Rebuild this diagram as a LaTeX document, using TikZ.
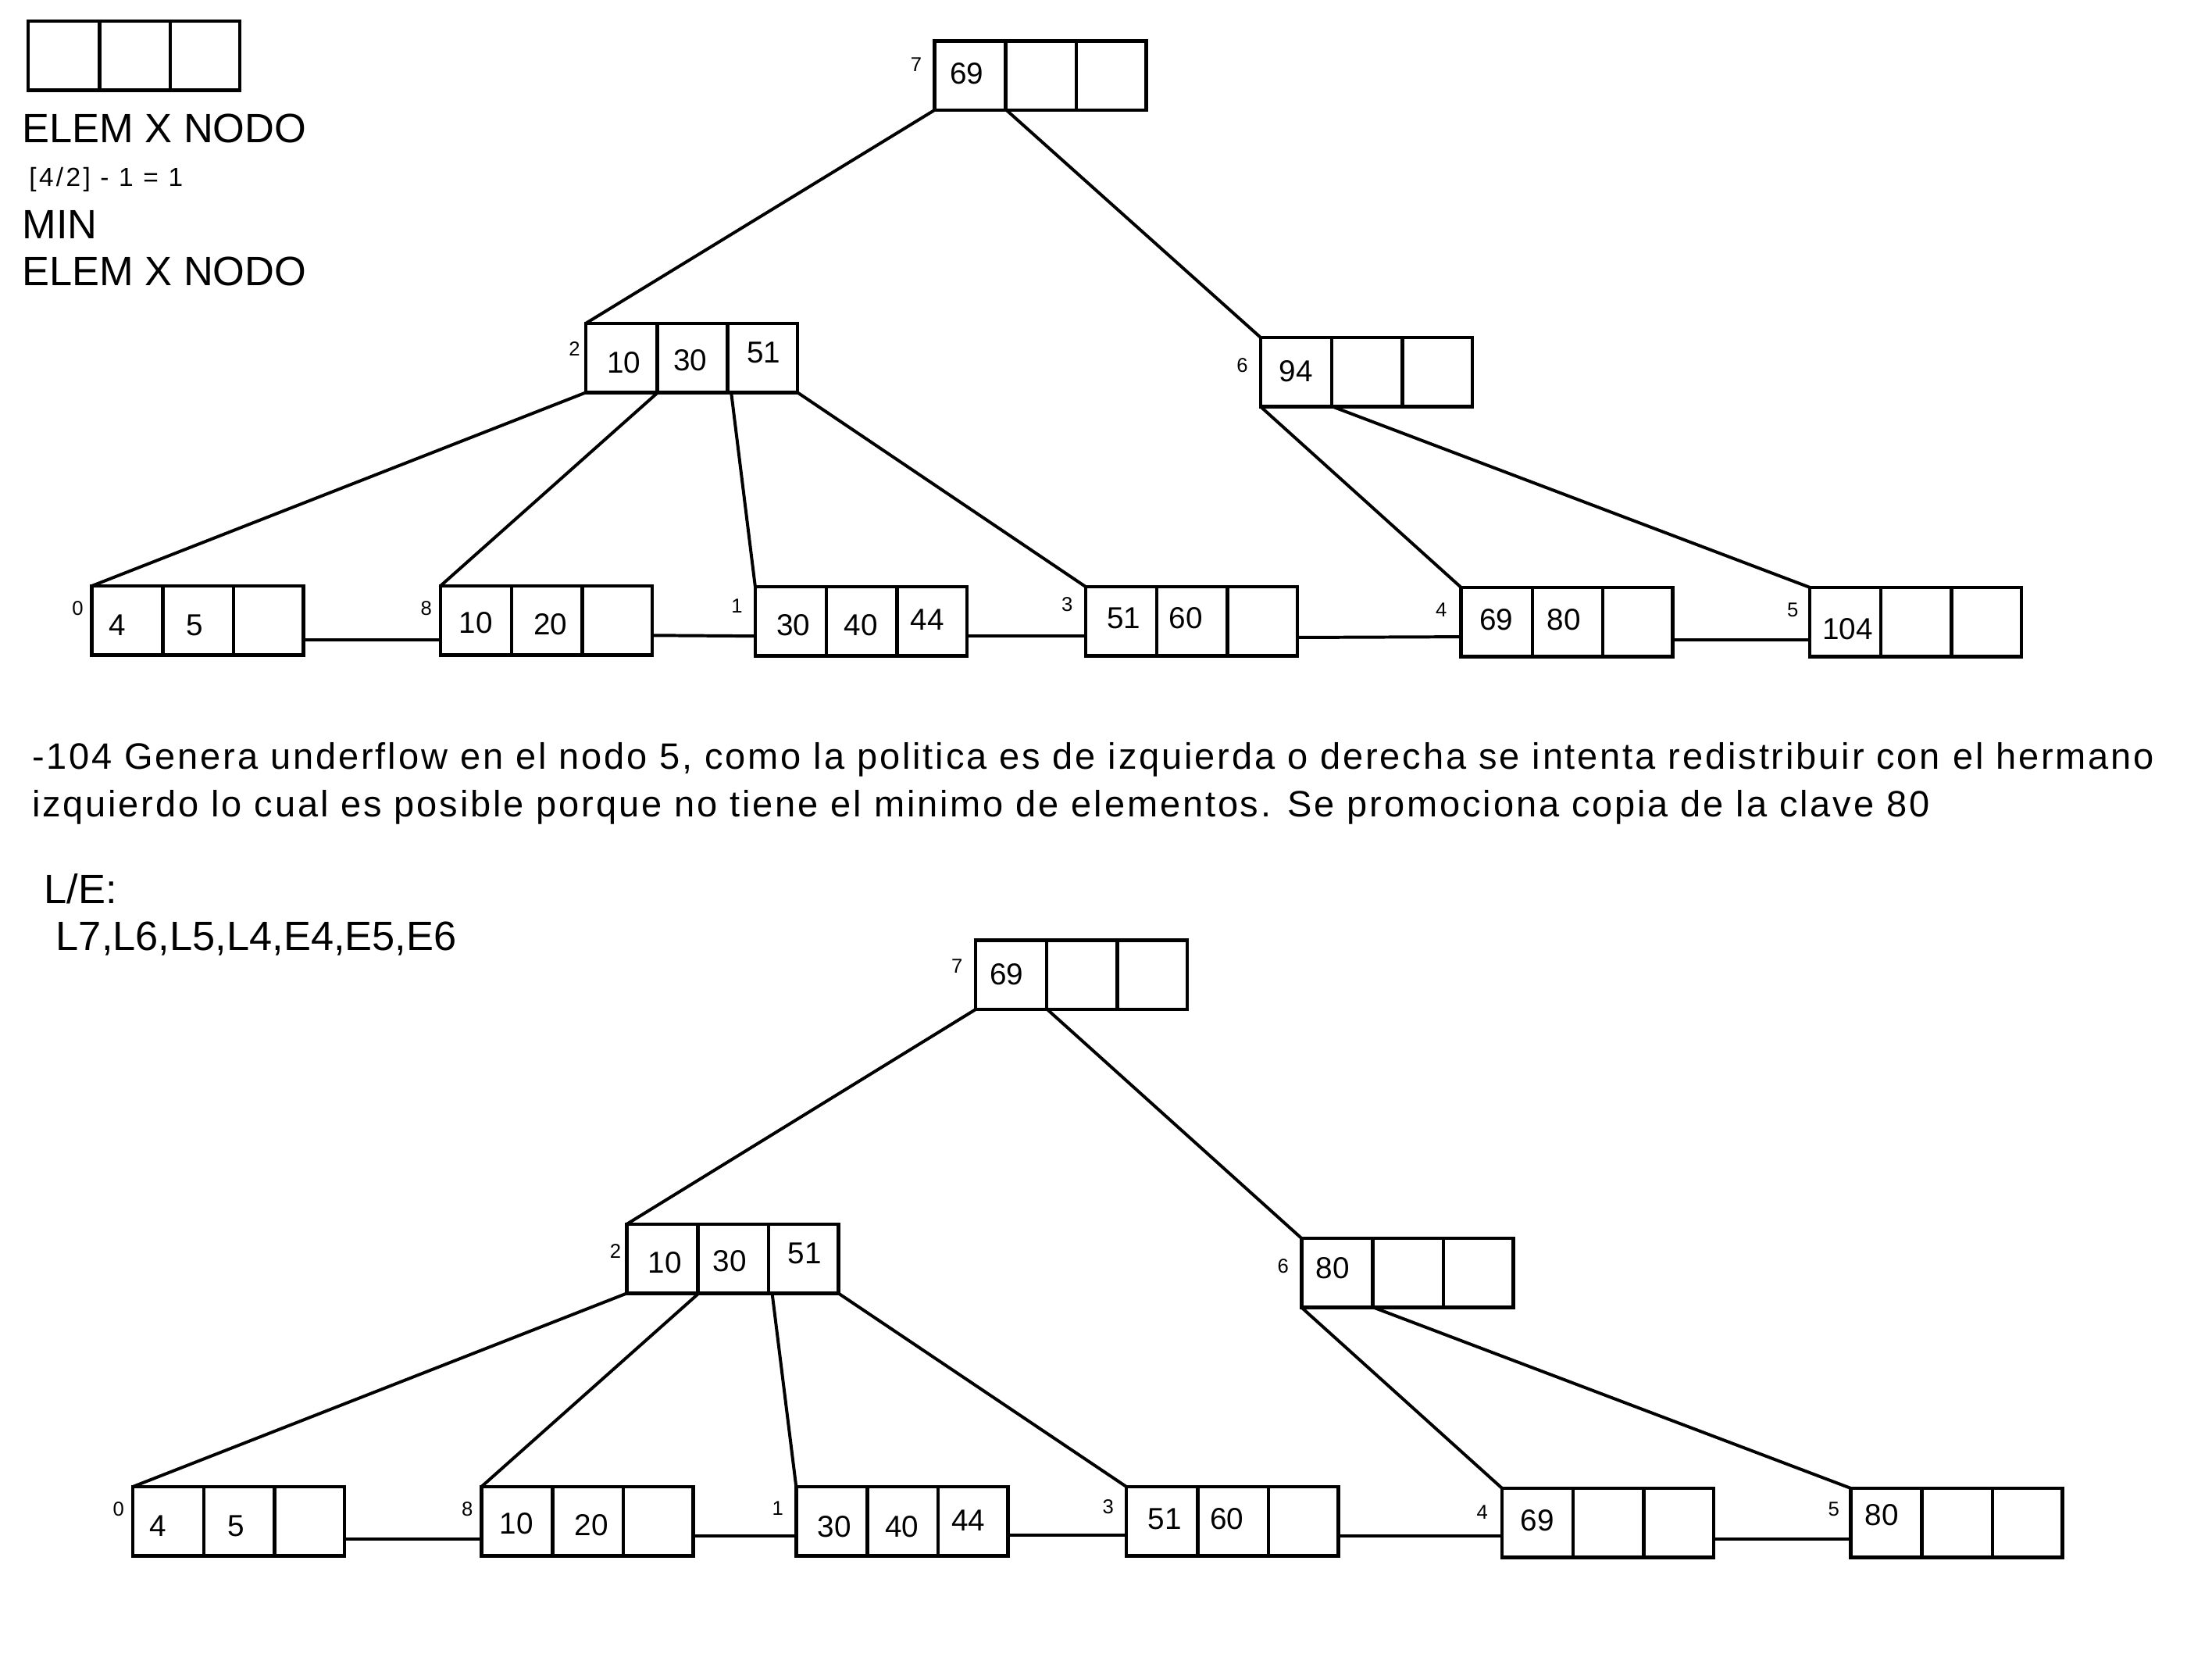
\documentclass[tikz,border=0pt]{standalone}
\usepackage{fontspec}
\setmainfont{Liberation Sans}
\newfontfamily\parafont[LetterSpace=6.1]{Liberation Sans}
\newfontfamily\smallfont[LetterSpace=10]{Liberation Sans}
\usetikzlibrary{calc}
\tikzset{
  bnode/.style={draw, line width=2.5pt, minimum width=150pt, minimum height=49pt, inner sep=0pt, outer sep=0pt, anchor=north west},
  divider/.style={line width=2.5pt},
  key/.style={font=\fontsize{21.4}{21.4}\selectfont, inner sep=0pt},
  idx/.style={font=\fontsize{14.2}{14.2}\selectfont, inner sep=0pt},
  link/.style={line width=2.2pt},
  big/.style={font=\fontsize{29}{29}\selectfont, inner sep=0pt, anchor=base west},
  para/.style={font=\parafont\fontsize{26}{26}\selectfont, inner sep=0pt, anchor=base west},
  small/.style={font=\smallfont\fontsize{18.5}{18.5}\selectfont, inner sep=0pt, anchor=base west}
}
\newcommand\btbox[3]{%
  \node[bnode] (#1) at (#2,#3) {};
  \draw[divider] ($(#1.north west)+(50.5,0)$) -- ($(#1.south west)+(50.5,0)$);
  \draw[divider] ($(#1.north west)+(100.5,0)$) -- ($(#1.south west)+(100.5,0)$);
}
\begin{document}
\begin{tikzpicture}[x=1pt,y=-1pt]
\useasboundingbox[fill=white] (0,0) rectangle (1567,1186);

% legend
\btbox{legend}{20}{15}
\node[big] (le1) at (15.5,101.1) {ELEM X NODO};
\node[small] (le2) at (20.5,131.9) {[4/2] - 1 = 1};
\node[big] (le3) at (15.5,168.8) {MIN};
\node[big] (le4) at (15.5,202) {ELEM X NODO};

% ---------- top tree ----------
\btbox{t7}{662}{29}
\btbox{t2}{415}{229}
\btbox{t6}{893}{239}
\btbox{t0}{65}{415}
\btbox{t8}{312}{415}
\btbox{t1}{535}{415.5}
\btbox{t3}{769}{415.5}
\btbox{t4}{1035}{416}
\btbox{t5}{1282}{416}

\node[idx] (it7) at (649,46) {7};
\node[idx] (it2) at (407,247) {2};
\node[idx] (it6) at (880,259) {6};
\node[idx] (it0) at (55,431) {0};
\node[idx] (it8) at (302,431) {8};
\node[idx] (it1) at (522,429) {1};
\node[idx] (it3) at (756,428) {3};
\node[idx] (it4) at (1021,432) {4};
\node[idx] (it5) at (1270,432) {5};

\node[key] (kt7a) at (685,52) {69};
\node[key] (kt2a) at (442,257) {10};
\node[key] (kt2b) at (489,255) {30};
\node[key] (kt2c) at (541,250) {51};
\node[key] (kt6a) at (918,263) {94};
\node[key] (kt0a) at (83,443) {4};
\node[key] (kt0b) at (138,443) {5};
\node[key] (kt8a) at (337,441) {10};
\node[key] (kt8b) at (390,442) {20};
\node[key] (kt1a) at (562,443) {30};
\node[key] (kt1b) at (610,443) {40};
\node[key] (kt1c) at (657,439) {44};
\node[key] (kt3a) at (796,438) {51};
\node[key] (kt3b) at (840,438) {60};
\node[key] (kt4a) at (1060,439) {69};
\node[key] (kt4b) at (1108,439) {80};
\node[key] (kt5a) at (1309,445.5) {104};

\draw[link] (t7.south west) -- (t2.north west);
\draw[link] ($(t7.south west)+(51,0)$) -- (t6.north west);
\draw[link] (t2.south west) -- (t0.north west);
\draw[link] ($(t2.south west)+(51,0)$) -- (t8.north west);
\draw[link] ($(t2.south west)+(103,0)$) -- (t1.north west);
\draw[link] (t2.south east) -- (t3.north west);
\draw[link] (t6.south west) -- (t4.north west);
\draw[link] ($(t6.south west)+(51,0)$) -- (t5.north west);

\draw[link] ($(t0.north east)+(0,38)$) -- ($(t8.north west)+(0,38)$);
\draw[link] ($(t8.north east)+(0,35)$) -- ($(t1.north west)+(0,35)$);
\draw[link] ($(t1.north east)+(0,35)$) -- ($(t3.north west)+(0,35)$);
\draw[link] ($(t3.north east)+(0,36)$) -- ($(t4.north west)+(0,35)$);
\draw[link] ($(t4.north east)+(0,37)$) -- ($(t5.north west)+(0,37)$);

% paragraph
\node[para] (p1) at (22.5,544.7) {-104 Genera underflow en el nodo 5, como la politica es de izquierda o derecha se intenta redistribuir con el hermano};
\node[para] (p2) at (22.5,578.3) {izquierdo lo cual es posible porque no tiene el minimo de elementos. Se promociona copia de la clave 80};
\node[big] (le) at (31.2,640.1) {L/E:};
\node[big] (seq) at (39.5,672.9) {L7,L6,L5,L4,E4,E5,E6};

% ---------- bottom tree ----------
\btbox{b7}{691}{666}
\btbox{b2}{444}{867}
\btbox{b6}{922}{877}
\btbox{b0}{94}{1053}
\btbox{b8}{341}{1053}
\btbox{b1}{564}{1053}
\btbox{b3}{798}{1053}
\btbox{b4}{1064}{1054}
\btbox{b5}{1311}{1054}

\node[idx] (ib7) at (678,684) {7};
\node[idx] (ib2) at (436,886) {2};
\node[idx] (ib6) at (909,897) {6};
\node[idx] (ib0) at (84,1069) {0};
\node[idx] (ib8) at (331,1069) {8};
\node[idx] (ib1) at (551,1068) {1};
\node[idx] (ib3) at (785,1067) {3};
\node[idx] (ib4) at (1050,1071) {4};
\node[idx] (ib5) at (1299,1069) {5};

\node[key] (kb7a) at (713,690) {69};
\node[key] (kb2a) at (471,894) {10};
\node[key] (kb2b) at (517,893) {30};
\node[key] (kb2c) at (570,888) {51};
\node[key] (kb6a) at (944,898) {80};
\node[key] (kb0a) at (112,1081) {4};
\node[key] (kb0b) at (167,1081) {5};
\node[key] (kb8a) at (366,1079) {10};
\node[key] (kb8b) at (419,1080) {20};
\node[key] (kb1a) at (591,1081) {30};
\node[key] (kb1b) at (639,1081) {40};
\node[key] (kb1c) at (686,1077) {44};
\node[key] (kb3a) at (825,1076) {51};
\node[key] (kb3b) at (869,1076) {60};
\node[key] (kb4a) at (1089,1077) {69};
\node[key] (kb5a) at (1333,1073) {80};

\draw[link] (b7.south west) -- (b2.north west);
\draw[link] ($(b7.south west)+(51,0)$) -- (b6.north west);
\draw[link] (b2.south west) -- (b0.north west);
\draw[link] ($(b2.south west)+(51,0)$) -- (b8.north west);
\draw[link] ($(b2.south west)+(103,0)$) -- (b1.north west);
\draw[link] (b2.south east) -- (b3.north west);
\draw[link] (b6.south west) -- (b4.north west);
\draw[link] ($(b6.south west)+(51,0)$) -- (b5.north west);

\draw[link] ($(b0.north east)+(0,37)$) -- ($(b8.north west)+(0,37)$);
\draw[link] ($(b8.north east)+(0,35)$) -- ($(b1.north west)+(0,35)$);
\draw[link] ($(b1.north east)+(0,34)$) -- ($(b3.north west)+(0,34)$);
\draw[link] ($(b3.north east)+(0,35)$) -- ($(b4.north west)+(0,34)$);
\draw[link] ($(b4.north east)+(0,36)$) -- ($(b5.north west)+(0,36)$);
\end{tikzpicture}
\end{document}
